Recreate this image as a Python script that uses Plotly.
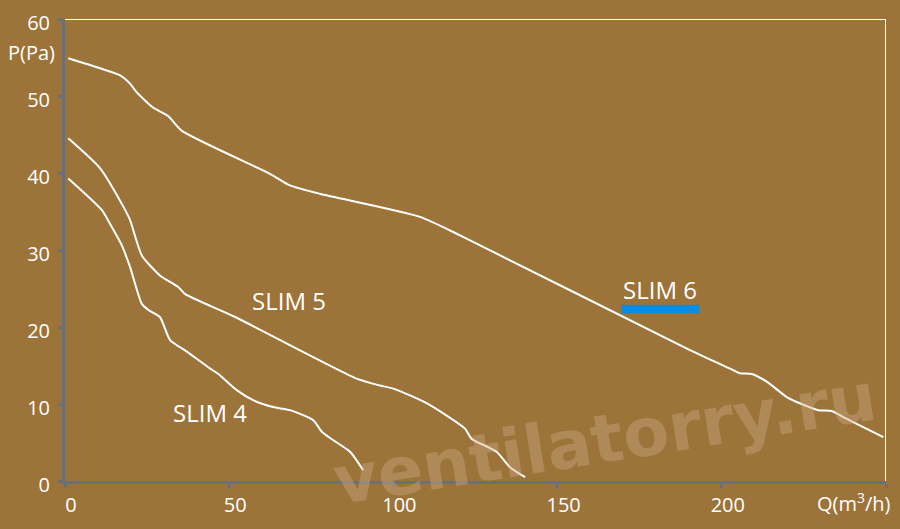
import plotly.graph_objs as go

# curves: Q in m3/h, P in Pa
slim4_q = [1, 11.2, 13.7, 17.3, 19.8, 23.4, 25.4, 28.9, 32.0, 37.1, 44.2, 46.7, 52.3, 57.3, 63.4, 68.5, 75.6, 78.2, 81.7, 86.8, 90.8]
slim4_p = [39.3, 35.2, 33.4, 30.6, 27.8, 23.0, 22.2, 21.3, 18.3, 16.8, 14.6, 13.9, 11.8, 10.5, 9.6, 9.2, 7.9, 6.4, 5.3, 3.8, 1.4]

slim5_q = [1, 10.7, 17.8, 19.8, 23.4, 28.9, 34.5, 36.5, 51.8, 88.8, 95.9, 100, 110.1, 121.8, 123.8, 131.4, 135.5, 140.1]
slim5_p = [44.5, 40.6, 35.6, 33.9, 29.3, 26.7, 25.2, 24.3, 21.3, 13.3, 12.4, 12.0, 10.1, 6.8, 5.5, 3.8, 1.8, 0.5]

slim6_q = [1, 10.7, 16.7, 19.8, 21.8, 26.8, 31.4, 35.5, 62.4, 68.5, 77.6, 108.1, 120.3, 190.3, 202.5, 205.5, 209.1, 213.7, 219.8, 224.3, 229.4, 233.5, 237.0, 249.2]
slim6_p = [54.9, 53.6, 52.7, 51.6, 50.5, 48.5, 47.4, 45.5, 39.9, 38.4, 37.3, 34.3, 31.9, 17.0, 14.6, 14.0, 13.9, 12.9, 10.9, 10.0, 9.2, 9.1, 8.3, 5.7]

x_ticks = [0, 50, 100, 150, 200, 250]
x_labels = ["0", "50", "100", "150", "200", " "]
y_ticks = [0, 10, 20, 30, 40, 50, 60]

bg = '#9c7339'
grey = '#6d6f74'
font = 'Open Sans'

data = []
for q, p in [(slim4_q, slim4_p), (slim5_q, slim5_p), (slim6_q, slim6_p)]:
    data.append(go.Scatter(
        x=q,
        y=p,
        mode='lines',
        line=dict(color='white', width=2, shape='spline', smoothing=0.6),
        hoverinfo='x+y',
    ))

layout = go.Layout(
    width=900,
    height=529,
    margin=dict(l=65, r=14, t=19, b=48),
    paper_bgcolor=bg,
    plot_bgcolor=bg,
    showlegend=False,
    font=dict(family=font, color='white', size=20),
    xaxis=dict(
        range=[0, 250],
        tickvals=x_ticks,
        ticktext=x_labels,
        showgrid=False,
        zeroline=False,
        showline=True,
        linecolor=grey,
        linewidth=3,
        ticks='outside',
        ticklen=4,
        tickwidth=3,
        tickcolor=grey,
        ticklabelshift=6,
        automargin=False,
        tickfont=dict(family=font, color='white', size=20),
    ),
    yaxis=dict(
        range=[0, 60],
        tickvals=y_ticks,
        showgrid=False,
        zeroline=False,
        showline=True,
        linecolor=grey,
        linewidth=3,
        ticks='outside',
        ticklen=4,
        tickwidth=3,
        tickcolor=grey,
        ticklabelshift=4,
        ticklabelstandoff=4,
        automargin=False,
        tickfont=dict(family=font, color='white', size=20),
    ),
    shapes=[
        # white frame on top and right
        dict(type='line', xref='x', yref='y', x0=0, x1=250, y0=60, y1=60,
             line=dict(color='white', width=2)),
        dict(type='line', xref='x', yref='y', x0=250, x1=250, y0=0, y1=60,
             line=dict(color='white', width=2)),
        # blue swatch under SLIM 6
        dict(type='rect', xref='x', yref='y', x0=169.3, x1=193.1, y0=21.8, y1=22.9,
             fillcolor='#0a8de0', line=dict(width=0)),
    ],
    annotations=[
        dict(text='ventilatorry.ru', xref='x', yref='y', x=164.5, y=5.5, showarrow=False,
             textangle=-9,
             font=dict(family='DejaVu Sans', size=67, weight='bold', color='rgba(205,170,130,0.42)'),
             ),
        dict(text='P(Pa)', xref='paper', yref='y', x=0, y=55.7, xanchor='right', xshift=-8,
             showarrow=False, font=dict(family=font, size=20, color='white')),
        dict(text='Q(m<sup>3</sup>/h)', xref='x', yref='y', x=250, y=0, xanchor='right', xshift=7,
             yshift=-21, showarrow=False, font=dict(family=font, size=20, color='white')),
        dict(text='SLIM 4', xref='x', yref='y', x=44.2, y=8.9, showarrow=False,
             font=dict(family=font, size=24, color='white')),
        dict(text='SLIM 5', xref='x', yref='y', x=68.2, y=23.5, showarrow=False,
             font=dict(family=font, size=24, color='white')),
        dict(text='SLIM 6', xref='x', yref='y', x=181.2, y=24.9, showarrow=False,
             font=dict(family=font, size=24, color='white')),
    ],
)

config = dict(displaylogo=False, displayModeBar=False)
fig = go.Figure(data=data, layout=layout)
fig.write_html("out.html", config=config,
               post_script="document.body.style.margin='0';")
